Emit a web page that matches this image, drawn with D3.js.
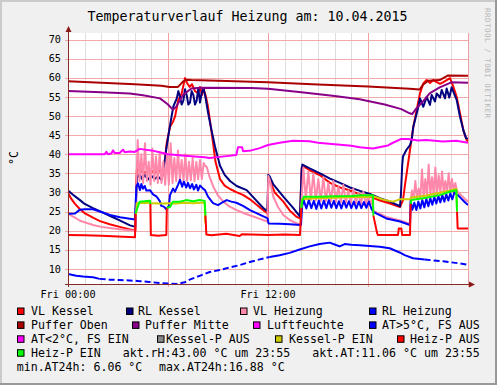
<!DOCTYPE html>
<html lang="de">
<head>
<meta charset="UTF-8">
<title>Temperaturverlauf Heizung</title>
<script src="https://cdn.jsdelivr.net/npm/d3@7"></script>
<style>
body{margin:0;background:#fff}
svg{display:block}
text{font-family:"DejaVu Sans Mono",monospace}
</style>
</head>
<body>
<script>
// Stunden (0-24) und Temperatur in °C
var vlKessel=[[0,29.9],[0.2,28.3],[0.42,27.0],[0.72,25.6],[1.02,24.5],[1.5,23.4],[1.92,22.5],[2.5,21.7],[3.1,21.0],[3.72,20.3],[4.05,20.1],
 [4.1,33],[4.14,36.3],[4.3,35.6],[4.6,35.2],[4.9,35.8],[5.2,35.2],[5.5,35.6],[5.7,35.4],[5.82,38.7],[5.92,42.9],[6.12,47.2],[6.3,48.5],[6.42,49.8],
 [6.62,54.2],[6.82,55.9],[7.02,59.9],[7.16,58.5],[7.3,57.6],[7.44,58.3],[7.62,56.5],[7.8,56],[7.92,57.6],[8.04,55.5],[8.12,57.3],[8.28,55],[8.4,52.4],
 [8.64,45],[8.85,38],[9.12,33.5],[9.4,31.8],[9.72,30.9],[10.1,30.1],[10.52,29.3],[10.92,28.2],[11.32,26.8],[11.7,25.4],[11.98,24.5],
 [12.02,33.8],[12.1,33.2],[12.4,30],[12.92,27.6],[13.3,25.3],[13.72,23.6],[13.92,23.2],
 [14.02,36.5],[14.1,36.9],[14.5,35.8],[15.12,34.5],[15.72,32.5],[16.32,31.3],[16.92,30.5],[17.52,29.5],[18.12,28.9],[18.72,27.9],[19.32,27.1],[19.92,26.2],
 [20.1,28],[20.22,32],[20.35,35.9],[20.52,41.1],[20.72,47.2],[20.92,51.6],[21.12,55.9],[21.32,58.5],[21.52,59.4],[21.72,58.6],[21.92,59.4],[22.1,58.9],
 [22.32,58.4],[22.5,58.8],[22.72,59.4],[22.92,59.9],[23.12,57.7],[23.32,55],[23.52,50.7],[23.72,46.3],[23.92,43.7],[24,43.3]];
var rlKessel=[[0,30.5],[0.3,29.4],[0.72,28.0],[1.0,27.0],[1.5,25.9],[2.0,24.9],[2.5,23.9],[3.1,22.7],[3.72,21.4],[4.05,21.0],
 [4.1,30],[4.14,33.8],[4.3,34.8],[4.45,33.5],[4.6,34.6],[4.8,33.4],[5.0,34.4],[5.2,33.5],[5.4,34.2],[5.6,33.3],[5.7,35],[5.92,42],[6.12,47.5],[6.32,52.5],
 [6.52,54.5],[6.62,56.5],[6.72,55],[6.82,53],[6.92,54],[7.02,57],[7.12,55.5],[7.22,53],[7.32,53.5],[7.42,56.5],[7.52,55.5],[7.62,53],[7.72,54],
 [7.82,57.3],[7.92,53.5],[8.02,56],[8.12,57.3],[8.22,55.5],[8.42,50.5],[8.6,46.5],[8.82,42],[9.12,37],[9.4,34.6],[9.72,33],[10.12,31.7],[10.72,30.6],
 [11.32,27.8],[11.7,26],[11.96,25.1],
 [12.02,34.6],[12.1,34.2],[12.32,32.1],[12.92,28.9],[13.52,25.9],[13.92,23.7],
 [14.02,36],[14.06,37.3],[14.5,36.3],[15.12,35],[15.72,33.6],[16.32,32.5],[16.92,31.3],[17.52,30.4],[18.12,29.6],[18.72,28.5],[19.32,27.6],[19.92,26.4],
 [19.98,29.8],[20.05,37],[20.1,39.4],[20.3,41.1],[20.52,42.4],[20.62,43.7],[20.72,47.2],[20.82,48.9],[21.02,52.4],[21.12,54.6],[21.32,52.4],[21.52,55],
 [21.72,52.9],[21.82,55.5],[22.02,53.8],[22.12,55.9],[22.32,54.8],[22.42,56.8],[22.62,54.6],[22.72,57.2],[22.88,54.8],[23.02,57.5],[23.16,55.9],
 [23.32,54.2],[23.52,49.8],[23.72,46.3],[23.88,44.2],[24,44]];
var vlHeizung=[[0,24.4],[0.42,23.4],[0.72,22.6],[1.0,22.2],[1.5,21.5],[2.0,21.0],[2.5,20.7],[3.1,20.4],[3.72,20.1],[4.05,20.0],
 [4.1,32],[4.18,43.7],[4.29,33],[4.4,40],[4.51,32.5],[4.62,42.9],[4.73,33],[4.84,38],[4.95,32],[5.06,41.5],[5.17,33],[5.28,39.5],[5.39,32.5],[5.5,40.5],
 [5.61,32.5],[5.72,38],[5.83,32],[5.94,40],[6.05,32],[6.16,42.9],[6.27,32.5],[6.38,39],[6.49,33],[6.6,41],[6.71,33.3],[6.82,38.5],[6.93,33],[7.04,40],
 [7.15,33],[7.26,38],[7.37,33.2],[7.48,39],[7.59,33],[7.7,38],[7.81,33.5],[7.92,38.5],[8.03,33.5],[8.14,37.7],[8.22,37],[8.32,36.7],[8.5,34],[8.72,31.5],
 [9.0,29.2],[9.32,27.6],[9.7,26.3],[10.12,25.4],[10.6,24.5],[11.12,23.7],[11.5,23.1],[11.96,22.4],
 [12.02,34.3],[12.1,33.4],[12.32,28.9],[12.6,26.2],[12.92,24.1],[13.3,22.8],[13.72,21.9],[13.96,21.8],
 [14.02,28],[14.12,36.5],[14.27,28.2],[14.42,35.5],[14.57,28],[14.72,35],[14.87,27.9],[15.02,33.5],[15.17,27.8],[15.32,34],[15.47,27.7],[15.62,32.5],
 [15.77,27.6],[15.92,33],[16.07,27.5],[16.22,31.5],[16.37,27.4],[16.52,32],[16.67,27.3],[16.82,30.5],[16.97,27.2],[17.12,31],[17.27,27.1],[17.42,29.8],
 [17.57,27],[17.72,30.2],[17.87,26.9],[18.02,29.3],[18.17,26.8],[18.27,28.5],[18.32,25.2],[18.55,24.7],[19.1,23.6],[19.92,22.7],[20.52,21.8],
 [20.56,28],[20.64,30.5],[20.74,28.2],[20.84,33],[20.94,28.5],[21.04,31],[21.14,28.6],[21.24,36],[21.34,28.8],[21.44,33.5],[21.54,29],[21.64,37.3],
 [21.74,29.2],[21.84,34],[21.94,29.4],[22.04,36.5],[22.14,29.5],[22.24,34.5],[22.34,29.8],[22.44,35.5],[22.54,30],[22.64,33],[22.74,30],[22.84,35],
 [22.94,30.2],[23.04,33.5],[23.14,30.4],[23.24,32.5],[23.34,30.4],[23.6,29.2],[23.82,28.3],[24,27.6]];
var rlHeizung=[[0,24.4],[0.42,24.5],[0.72,25.5],[1.0,25.6],[1.5,25.6],[2.0,24.9],[2.52,24.1],[3.12,23.5],[3.72,23.1],[4.02,22.9],
 [4.1,31.5],[4.2,32.4],[4.32,30.6],[4.4,32.2],[4.5,31],[4.6,31.7],[4.7,30.5],[4.92,30.6],[5.1,29.5],[5.3,29],[5.5,27.8],[5.6,26.5],[5.75,26.3],
 [5.9,25.6],[6.05,26.5],[6.12,29.3],[6.3,31.0],[6.42,30.2],[6.6,32],[6.72,33.3],[6.85,31.5],[6.95,32.8],[7.1,31.3],[7.2,32.5],[7.32,31.1],[7.45,32.2],
 [7.55,30.8],[7.7,32],[7.8,30.5],[7.92,31.8],[8.1,31],[8.22,30.6],[8.4,28.9],[8.7,27.2],[9.0,26.7],[9.3,27.5],[9.52,28],[9.8,27.6],[10.1,27.3],
 [10.5,26.5],[10.92,25.4],[11.5,24.2],[11.98,23.2],[12.03,21.9],[12.72,21.8],[13.3,21.7],[13.98,21.5],
 [14.05,26.5],[14.15,27.9],[14.3,25.8],[14.45,28],[14.6,25.9],[14.75,27.8],[14.9,25.7],[15.05,27.9],[15.2,25.8],[15.35,27.9],[15.5,25.9],[15.65,28],
 [15.8,26],[15.95,27.8],[16.1,25.9],[16.25,27.7],[16.4,25.8],[16.55,27.8],[16.7,26],[16.85,27.7],[17.0,25.9],[17.15,27.6],[17.3,25.8],[17.45,27.6],
 [17.6,25.9],[17.75,27.5],[17.9,26],[18.05,27.6],[18.2,25.8],[18.3,25],[18.55,24.4],[19.1,23.2],[19.92,22.4],[20.52,21.5],
 [20.56,27.8],[20.66,25.5],[20.78,27.3],[20.9,25.4],[21.02,27.6],[21.14,25.8],[21.26,28],[21.38,26.1],[21.5,28.3],[21.62,26.4],[21.74,28.5],[21.86,26.8],
 [21.98,28.8],[22.1,27.1],[22.22,29.1],[22.34,27.4],[22.46,29.3],[22.58,27.6],[22.7,29.5],[22.82,27.9],[22.94,29.8],[23.06,28.2],[23.18,30],[23.3,29.6],
 [23.4,29.3],[23.6,28.4],[23.8,27.5],[24,26.7]];
var pufferOben=[[0,59.1],[2,58.7],[4,58.3],[5.6,57.9],[6.1,57.6],[6.6,57.6],[6.9,59],[7.1,59.5],[7.4,59.4],[9,59.2],[12,58.8],[15,58.2],[18,57.7],
 [20.5,57.1],[21.1,56.9],[21.3,58.2],[21.6,59.2],[22.3,59.4],[22.8,60.6],[24,60.5]];
var pufferMitte=[[0,56.5],[2,56.2],[3.7,55.9],[4.5,55.4],[5.52,54.6],[6.0,53],[6.3,51.6],[6.5,52.5],[6.9,55.5],[7.4,57.2],[8,57.4],[11,57.3],[12,57.1],
 [14,56.2],[16,55.2],[17.5,54.4],[19,53],[20.0,51.8],[20.5,50.7],[20.65,50.5],[20.9,52],[21.3,53.8],[21.7,55.9],[22.3,57.5],[23.0,58.8],[24,58.7]];
var luftfeuchte=[[0,40],[2.2,40],[2.3,40.6],[2.4,40],[2.6,40.2],[2.7,41],[2.8,40.3],[3.1,40.3],[3.3,41.2],[3.4,40.5],[3.7,40.7],[4.0,40.6],[4.3,41.4],
 [4.6,41.2],[5.0,41.0],[5.5,40.5],[6,40],[7,39.6],[8.2,39.2],[8.5,39],[9.5,39.5],[10.1,39.8],[10.2,41.8],[10.45,41.8],[10.5,40.8],[11,41],[11.5,41.6],
 [12,42.4],[12.7,43],[13.5,43.5],[14.5,43.4],[15.0,43.0],[16,42.6],[17,42.2],[17.5,41.8],[18.3,41.5],[19.2,42.3],[19.5,43],[20,44],[20.4,44],[21,43.6],
 [21.5,43.7],[22.5,43.3],[23.3,43.5],[24,43.0]];
var aussen=[[0,8.7],[0.5,8.2],[0.9,8.0],[1.5,7.8],[1.9,7.4],[2.5,7.2],[3.1,7.1],[3.7,7.0],[4.3,6.8],[4.9,6.6],[5.5,6.3],[6.1,6.15],[6.5,6.06],[7.0,6.5],
 [7.3,7.2],[7.9,8.2],[8.5,9.2],[9.1,9.7],[9.7,10.4],[10.3,11],[10.9,11.8],[11.5,12.5],[12.1,13.1],[12.7,13.6],[13.3,14.2],[13.9,15.1],[14.5,15.9],
 [15.1,16.5],[15.7,16.88],[16.0,16.4],[16.3,15.9],[16.6,16.5],[17.0,16.3],[17.5,16.2],[18.1,16.0],[18.7,15.8],[19.3,15.4],[19.9,14.3],[20.2,13.6],
 [20.7,12.8],[21.4,12.45],[22.5,12.0],[23.4,11.5],[24,11.06]];
var aussenLuecken=[[1.9,12.1],[21.4,24]]; // Abschnitte mit Messlücken
var kesselPEin=[[4.08,24],[4.12,27.2],[4.5,27.3],[5,27.2],[5.5,27.1],[6,27.2],[6.5,27.1],[7,27.3],[7.5,27.2],[8.2,27.4],[8.23,22],null,
 [14.0,26],[14.05,28.3],[15,28.5],[16,28.6],[17,28.8],[18,28.8],[18.3,29.0],[18.6,28.6],[19.0,28.0],[19.5,27.6],[19.9,28.2],[20.5,28.2],[20.6,28.7],
 [21.5,29.2],[22.3,29.9],[23.0,30.6],[23.3,30.9],[23.34,26]];
var heizPAus=[[0,18.9],[1,18.8],[2,18.7],[3,18.5],[4.02,18.3],[4.05,24.5],null,[4.94,27],[4.97,18.9],[5.4,18.7],[5.9,18.9],[5.93,26],null,
 [8.25,24],[8.3,19],[8.6,18.8],[9.5,19.2],[10.3,18.6],[10.45,19.1],[11,19],[12,18.9],[13,19],[13.92,18.9],[14.0,26],null,
 [18.32,24],[18.55,19.3],[18.6,18.9],[19.8,18.9],[19.85,20.6],[20.0,20.6],[20.05,18.9],[20.52,18.9],[20.56,27],null,
 [23.34,25],[23.38,20.6],[24,20.6]];
var heizPEin=[[4.05,24.5],[4.3,27.6],[4.92,27.8],[4.94,27],null,[5.93,26],[6.12,26.2],[6.3,27.6],[6.7,27.6],[7.1,28],[7.5,27.7],[7.9,28],[8.2,27.8],
 [8.25,24],null,[14.0,26],[14.05,27.6],[14.15,28.9],[15,28.9],[16,29],[17,29.1],[17.6,29.3],[18.3,29.3],[18.32,24],null,
 [20.56,27],[20.6,28],[21.5,28.6],[22.3,29.3],[23.0,30.3],[23.3,30.6],[23.34,25]];

var yTicks=[10,15,20,25,30,35,40,45,50,55,60,65,70];
var xLabels=[[0,"Fri 00:00"],[12,"Fri 12:00"]];
var legendNames=["VL Kessel","RL Kessel","VL Heizung","RL Heizung","Puffer Oben","Puffer Mitte","Luftfeuchte","AT>5°C, FS AUS",
 "AT<2°C, FS EIN","Kessel-P AUS","Kessel-P EIN","Heiz-P AUS","Heiz-P EIN"];
var legendColors=["#ff0000","#000080","#ff88aa","#0000ff","#aa0000","#880088","#ff00ff","#0000ff","#ff00ff","#888888","#cccc00","#ff0000","#00ff00"];
var infoTexts=["akt.rH:43.00 °C um 23:55","akt.AT:11.06 °C um 23:55","min.AT24h: 6.06 °C","max.AT24h:16.88 °C"];

var W=497,H=385,L=68,R=468,T=33,B=284;
var x=d3.scaleLinear().domain([0,24]).range([L,R]);
var y=d3.scaleLinear().domain([6.06,71.7]).range([B,T]);

var svg=d3.select('body').append('svg').attr('width',W).attr('height',H);
svg.append('rect').attr('width',W).attr('height',H).attr('fill','#f0f0f0');
svg.append('path').attr('d','M0,'+H+'V0H'+W).attr('fill','none').attr('stroke','#cbcbcb').attr('stroke-width',4);
svg.append('path').attr('d','M0,'+H+'H'+W+'V0').attr('fill','none').attr('stroke','#999').attr('stroke-width',4);
svg.append('rect').attr('x',L).attr('y',T).attr('width',R-L).attr('height',B-T).attr('fill','#fff');

// Gitter
var g=svg.append('g').attr('shape-rendering','crispEdges');
g.selectAll('line.min').data(d3.range(0,25).filter(h=>h%6)).enter().append('line')
 .attr('x1',d=>Math.round(x(d))+0.5).attr('x2',d=>Math.round(x(d))+0.5).attr('y1',T).attr('y2',B+2)
 .attr('stroke','#dedede');
g.selectAll('line.maj').data([6,12,18,24]).enter().append('line')
 .attr('x1',d=>Math.round(x(d))+0.5).attr('x2',d=>Math.round(x(d))+0.5).attr('y1',T).attr('y2',B+3)
 .attr('stroke','#efa0a0');
g.selectAll('line.h').data(yTicks).enter().append('line')
 .attr('x1',L-3).attr('x2',R).attr('y1',d=>Math.round(y(d))+0.5).attr('y2',d=>Math.round(y(d))+0.5)
 .attr('stroke','#f0a8a8');

// Achsenbeschriftung
svg.selectAll('text.yt').data(yTicks).enter().append('text')
 .attr('x',61).attr('y',d=>y(d)).attr('dy','0.36em').attr('text-anchor','end')
 .attr('font-size','10.2px').text(d=>d);
svg.selectAll('text.xt').data(xLabels).enter().append('text')
 .attr('x',d=>x(d[0])).attr('y',298).attr('text-anchor','middle')
 .attr('font-size','10.2px').text(d=>d[1]);
svg.append('text').attr('transform','translate(18,158) rotate(-90)').attr('text-anchor','middle')
 .attr('font-size','11.6px').text('°C');
svg.append('text').attr('x',247.5).attr('y',21).attr('text-anchor','middle').attr('font-size','13.3px')
 .text('Temperaturverlauf Heizung am: 10.04.2015');
svg.append('text').attr('transform','translate(485,8) rotate(90)').attr('font-size','7.6px')
 .attr('font-family','DejaVu Sans').attr('fill','#b8b8b8').attr('textLength',110)
 .text('RRDTOOL / TOBI OETIKER');

// Linien
var clip=svg.append('clipPath').attr('id','c').append('rect').attr('x',L).attr('y',T-2).attr('width',R-L).attr('height',B-T+2);
var plot=svg.append('g').attr('clip-path','url(#c)');
var line=d3.line().defined(d=>d!==null).x(d=>x(d[0])).y(d=>y(d[1]));
function draw(data,color,dash){
  plot.append('path').attr('d',line(data)).attr('fill','none').attr('stroke',color)
   .attr('stroke-width',2).attr('stroke-linejoin','round').attr('stroke-dasharray',dash||null);
}
draw(vlKessel,legendColors[0]);
draw(rlKessel,legendColors[1]);
draw(vlHeizung,legendColors[2]);
draw(rlHeizung,legendColors[3]);
draw(pufferOben,legendColors[4]);
draw(pufferMitte,legendColors[5]);
draw(luftfeuchte,legendColors[6]);
// Aussentemperatur: durchgehend ausserhalb der Lücken, gestrichelt darin
var inGap=h=>aussenLuecken.some(r=>h>r[0]&&h<r[1]);
draw(aussen.map(d=>inGap(d[0])?null:d),legendColors[7]);
aussenLuecken.forEach(function(r){
  draw(aussen.filter(d=>d[0]>=r[0]&&d[0]<=r[1]),legendColors[7],'6,3');
});
draw(kesselPEin,legendColors[10]);
draw(heizPAus,legendColors[11]);
draw(heizPEin,legendColors[12]);

// Achsen mit Pfeilen
svg.append('line').attr('x1',L+0.5).attr('x2',L+0.5).attr('y1',B+3).attr('y2',28).attr('stroke','#8a2b2b').attr('shape-rendering','crispEdges');
svg.append('line').attr('x1',L-3).attr('x2',472).attr('y1',B+0.5).attr('y2',B+0.5).attr('stroke','#8a2b2b').attr('shape-rendering','crispEdges');
svg.append('path').attr('d','M65.5,32L68.5,26L71.5,32Z').attr('fill','#8b1a1a');
svg.append('path').attr('d','M469,281.5L475,284.5L469,287.5Z').attr('fill','#8b1a1a');

// Legende
var legX=[[17,31],[126,138],[240,253],[369,382],[17,31],[132,145],[253,267],[369,382],[17,31],[157,166],[275,289],[397,410],[17,31]];
var rowY=d3.range(5).map(i=>315+i*13.9);
legendNames.forEach(function(n,i){
  var row=Math.floor(i/4),p=legX[i];
  svg.append('rect').attr('x',p[0]+0.5).attr('y',rowY[row]-7).attr('width',6.5).attr('height',6.5)
   .attr('fill',legendColors[i]).attr('stroke','#000').attr('stroke-width',1);
  svg.append('text').attr('x',p[1]).attr('y',rowY[row]).attr('font-size','11.6px').text(n);
});
var infoPos=[[122.7,3],[312.3,3],[16.7,4],[159,4]];
infoTexts.forEach(function(t,i){
  svg.append('text').attr('x',infoPos[i][0]).attr('y',rowY[infoPos[i][1]]).attr('font-size','11.6px')
   .attr('xml:space','preserve').style('white-space','pre').text(t);
});
</script>
</body>
</html>
